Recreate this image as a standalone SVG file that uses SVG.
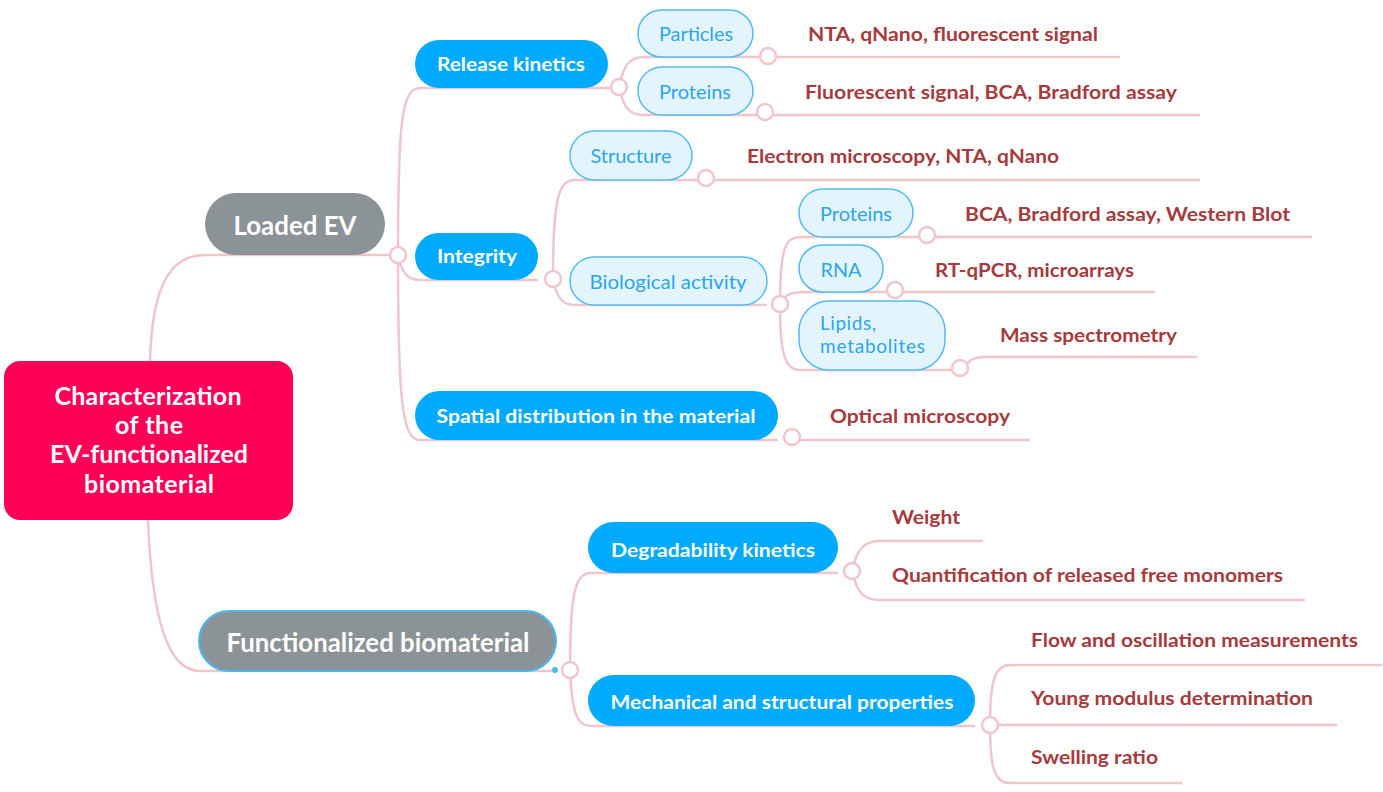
<svg xmlns="http://www.w3.org/2000/svg" width="1383" height="792" viewBox="0 0 1383 792">
<style>
.c{fill:none;stroke:#f0c6ca;stroke-width:2.5}
.j{fill:#fff;stroke:#f0c6ca;stroke-width:2.5}
.t{font-family:Lato,"Open Sans",sans-serif}
.w{fill:#fff;font-weight:bold}
.b{fill:#00aaff}
.l{fill:#e4f4fd;stroke:#52bcf2;stroke-width:1.5}
.lt{fill:#2aa6ee;font-size:19px}
.bt{font-size:19px}
.lab{fill:#a63a3c;font-weight:bold;font-size:19px}
.g{fill:#8b9396}
</style>
<rect width="1383" height="792" fill="#fff"/>
<g id="connectors">
<path class="c" d="M150,361 C152,290 168,255 205,255 H390"/>
<path class="c" d="M148,520 C152,620 168,671 200,671 H556"/>
<path class="c" d="M398,255 C398,120 402,88 420,88 H610"/>
<path class="c" d="M398,255 C402,274 408,280 420,280 H538"/>
<path class="c" d="M398,255 C398,400 402,440 420,440 H778"/>
<path class="c" d="M619,87 C624,63 630,57 645,57 H1120"/>
<path class="c" d="M619,87 C624,110 630,115 645,115 H1200"/>
<path class="c" d="M553,279 C553,200 558,180 575,180 H1200"/>
<path class="c" d="M553,279 C557,299 563,305 575,305 H767"/>
<path class="c" d="M780,304 C780,250 785,237 800,237 H1312"/>
<path class="c" d="M780,304 C784,295 790,292 805,292 H1155"/>
<path class="c" d="M780,304 C780,355 785,370 800,370 H960 C968,362 972,357 985,357 H1197"/>
<path class="c" d="M792,438 C796,440 800,440 806,440 H1030"/>
<path class="c" d="M570,670 C570,595 575,573 590,573 H838"/>
<path class="c" d="M570,670 C572,715 578,726 590,726 H975"/>
<path class="c" d="M852,571 C857,548 865,541 880,541 H983"/>
<path class="c" d="M852,571 C857,594 865,600 880,600 H1305"/>
<path class="c" d="M990,725 C990,680 995,665 1010,665 H1382"/>
<path class="c" d="M990,725 H1337"/>
<path class="c" d="M990,725 C990,770 995,783 1010,783 H1182"/>
<circle class="j" cx="398" cy="255" r="8"/>
<circle class="j" cx="619" cy="87" r="8"/>
<circle class="j" cx="768" cy="56" r="8"/>
<circle class="j" cx="765" cy="112" r="8"/>
<circle class="j" cx="553" cy="279" r="8"/>
<circle class="j" cx="706" cy="178" r="8"/>
<circle class="j" cx="780" cy="304" r="8"/>
<circle class="j" cx="927" cy="235" r="8"/>
<circle class="j" cx="895" cy="290" r="8"/>
<circle class="j" cx="960" cy="368" r="8"/>
<circle class="j" cx="792" cy="437" r="8"/>
<circle class="j" cx="570" cy="670" r="8"/>
<circle class="j" cx="852" cy="571" r="8"/>
<circle class="j" cx="990" cy="725" r="8"/>
</g>
<g id="root">
<rect x="4" y="361" width="289" height="159" rx="16" fill="#fd0058"/>
<text class="t w" font-size="25" text-anchor="middle" lengthAdjust="spacingAndGlyphs"><tspan x="148" y="405" textLength="187">Characterization</tspan><tspan x="149" y="434" textLength="68">of the</tspan><tspan x="149" y="463" textLength="198">EV-functionalized</tspan><tspan x="149" y="493" textLength="130">biomaterial</tspan></text>
</g>
<g id="loaded-ev">
<rect class="g" x="205" y="193" width="180" height="62" rx="31"/>
<text class="t w" font-size="26" text-anchor="middle" x="295" y="235" textLength="123" lengthAdjust="spacingAndGlyphs">Loaded EV</text>
</g>
<g id="functionalized">
<rect class="g" x="199" y="611" width="357" height="60" rx="30" stroke="#4db8f0" stroke-width="2"/>
<circle cx="555" cy="670" r="3" fill="#4db8f0"/>
<text class="t w" font-size="26" text-anchor="middle" x="378" y="652" textLength="303" lengthAdjust="spacingAndGlyphs">Functionalized biomaterial</text>
</g>
<g id="release">
<rect class="b" x="415" y="40" width="193" height="48" rx="24"/>
<text class="t w bt" text-anchor="middle" x="511" y="71" textLength="148" lengthAdjust="spacingAndGlyphs">Release kinetics</text>
</g>
<g id="particles">
<rect class="l" x="638" y="10" width="115" height="47" rx="23.5"/>
<text class="t lt" text-anchor="middle" x="696" y="41" textLength="74" lengthAdjust="spacingAndGlyphs">Particles</text>
</g>
<g id="particles-methods"><text class="t lab" x="808" y="41" textLength="290" lengthAdjust="spacingAndGlyphs">NTA, qNano, fluorescent signal</text></g>
<g id="proteins1">
<rect class="l" x="638" y="67" width="115" height="48" rx="24"/>
<text class="t lt" text-anchor="middle" x="695" y="99" textLength="72" lengthAdjust="spacingAndGlyphs">Proteins</text>
</g>
<g id="proteins1-methods"><text class="t lab" x="805" y="99" textLength="372" lengthAdjust="spacingAndGlyphs">Fluorescent signal, BCA, Bradford assay</text></g>
<g id="integrity">
<rect class="b" x="415" y="233" width="123" height="47" rx="23.5"/>
<text class="t w bt" text-anchor="middle" x="477" y="263" textLength="80" lengthAdjust="spacingAndGlyphs">Integrity</text>
</g>
<g id="structure">
<rect class="l" x="570" y="131" width="122" height="49" rx="24.5"/>
<text class="t lt" text-anchor="middle" x="631" y="163" textLength="81" lengthAdjust="spacingAndGlyphs">Structure</text>
</g>
<g id="structure-methods"><text class="t lab" x="747" y="163" textLength="312" lengthAdjust="spacingAndGlyphs">Electron microscopy, NTA, qNano</text></g>
<g id="bio">
<rect class="l" x="570" y="257" width="197" height="48" rx="24"/>
<text class="t lt" text-anchor="middle" x="668" y="289" textLength="157" lengthAdjust="spacingAndGlyphs">Biological activity</text>
</g>
<g id="proteins2">
<rect class="l" x="799" y="189" width="114" height="48" rx="24"/>
<text class="t lt" text-anchor="middle" x="856" y="221" textLength="72" lengthAdjust="spacingAndGlyphs">Proteins</text>
</g>
<g id="proteins2-methods"><text class="t lab" x="965" y="221" textLength="325" lengthAdjust="spacingAndGlyphs">BCA, Bradford assay, Western Blot</text></g>
<g id="rna">
<rect class="l" x="799" y="245" width="84" height="47" rx="23.5"/>
<text class="t lt" text-anchor="middle" x="841" y="277" textLength="41" lengthAdjust="spacingAndGlyphs">RNA</text>
</g>
<g id="rna-methods"><text class="t lab" x="935" y="277" textLength="199" lengthAdjust="spacingAndGlyphs">RT-qPCR, microarrays</text></g>
<g id="lipids">
<rect class="l" x="799" y="301" width="146" height="69" rx="30"/>
<text class="t lt" lengthAdjust="spacingAndGlyphs"><tspan x="820" y="330" textLength="56">Lipids,</tspan><tspan x="820" y="353" textLength="105">metabolites</tspan></text>
</g>
<g id="lipids-methods"><text class="t lab" x="1000" y="342" textLength="177" lengthAdjust="spacingAndGlyphs">Mass spectrometry</text></g>
<g id="spatial">
<rect class="b" x="415" y="391" width="363" height="49" rx="24.5"/>
<text class="t w bt" text-anchor="middle" x="596" y="423" textLength="319" lengthAdjust="spacingAndGlyphs">Spatial distribution in the material</text>
</g>
<g id="spatial-methods"><text class="t lab" x="830" y="423" textLength="180" lengthAdjust="spacingAndGlyphs">Optical microscopy</text></g>
<g id="degradability">
<rect class="b" x="588" y="522" width="250" height="51" rx="25.5"/>
<text class="t w bt" text-anchor="middle" x="713" y="557" textLength="204" lengthAdjust="spacingAndGlyphs">Degradability kinetics</text>
</g>
<g id="weight"><text class="t lab" x="892" y="524" textLength="68" lengthAdjust="spacingAndGlyphs">Weight</text></g>
<g id="quantification"><text class="t lab" x="892" y="582" textLength="391" lengthAdjust="spacingAndGlyphs">Quantification of released free monomers</text></g>
<g id="mechanical">
<rect class="b" x="588" y="675" width="387" height="51" rx="25.5"/>
<text class="t w bt" text-anchor="middle" x="782" y="709" textLength="343" lengthAdjust="spacingAndGlyphs">Mechanical and structural properties</text>
</g>
<g id="flow"><text class="t lab" x="1031" y="647" textLength="327" lengthAdjust="spacingAndGlyphs">Flow and oscillation measurements</text></g>
<g id="young"><text class="t lab" x="1031" y="705" textLength="282" lengthAdjust="spacingAndGlyphs">Young modulus determination</text></g>
<g id="swelling"><text class="t lab" x="1031" y="764" textLength="127" lengthAdjust="spacingAndGlyphs">Swelling ratio</text></g>
</svg>
